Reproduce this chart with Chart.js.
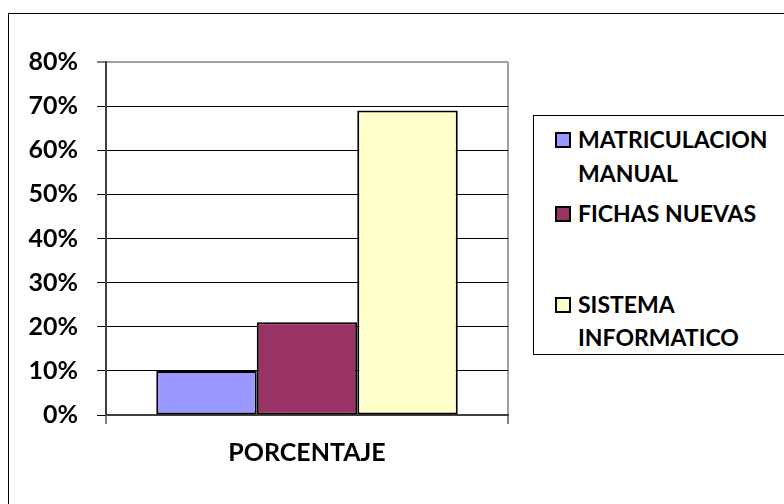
<!DOCTYPE html>
<html>
<head>
<meta charset="utf-8">
<script src="https://cdn.jsdelivr.net/npm/chart.js@4"></script>
<style>
  body { margin: 0; background: #fff; }
  #wrap { position: relative; width: 784px; height: 504px; overflow: hidden; }
  #frame { position: absolute; left: 8px; top: 13px; width: 800px; height: 520px; border: 1px solid #000; }
  #myChart { position: absolute; left: 0; top: 0; }
  #legend {
    position: absolute; left: 533px; top: 115px; width: 280px; height: 238px;
    border: 1px solid #000; background: #fff;
    font-family: Lato, sans-serif; font-weight: bold; font-size: 23px; color: #000;
  }
  .item { display: flex; align-items: flex-start; margin-left: 21px; line-height: 33.5px; }
  .box { width: 12px; height: 12px; border: 2px solid #000; margin-top: 9px; margin-right: 7px; flex: none; }
  .txt { width: 205px; }
</style>
</head>
<body>
<div id="wrap">
  <div id="frame"></div>
  <canvas id="myChart" width="784" height="504"></canvas>
  <div id="legend"></div>
</div>
<script>
const categories = ['PORCENTAJE'];
const seriesNames = ['MATRICULACION MANUAL', 'FICHAS NUEVAS', 'SISTEMA INFORMATICO'];
const seriesValues = [[0.10], [0.21], [0.69]];
const seriesColors = ['#9999FF', '#993366', '#FFFFCC'];
const yMax = 0.8;
const yStep = 0.1;

const labelFont = { family: 'Lato', weight: 'bold', size: 25 };

const ctx = document.getElementById('myChart').getContext('2d');
const myChart = new Chart(ctx, {
    type: 'bar',
    data: {
        labels: categories,
        datasets: seriesNames.map((name, i) => ({
            label: name,
            data: seriesValues[i],
            backgroundColor: seriesColors[i],
            borderColor: '#000',
            borderWidth: 2,
            borderSkipped: false,
            categoryPercentage: 0.75,
            barPercentage: 1.0
        }))
    },
    options: {
        responsive: false,
        animation: false,
        layout: { padding: { top: 62, right: 276, left: 0, bottom: 0 } },
        plugins: {
            legend: { display: false },
            tooltip: { enabled: false }
        },
        scales: {
            x: {
                offset: true,
                afterFit: scale => { scale.height = 89; },
                border: { color: '#404040', width: 2 },
                grid: {
                    offset: true,
                    tickLength: 9,
                    color: c => c.type === 'tick' ? 'rgba(0,0,0,0)' : '#a0a0a0',
                    lineWidth: 2,
                    tickColor: '#000',
                    tickWidth: 1
                },
                ticks: { color: '#000', font: labelFont, padding: 14 }
            },
            y: {
                min: 0,
                max: yMax,
                afterFit: scale => { scale.width = 106; },
                border: { color: '#404040', width: 2 },
                grid: {
                    tickLength: 9,
                    color: c => c.tick && c.tick.value >= yMax - 1e-9 ? '#a0a0a0' : '#000',
                    lineWidth: c => c.tick && c.tick.value >= yMax - 1e-9 ? 2 : 1,
                    tickColor: '#000',
                    tickWidth: 1
                },
                ticks: {
                    stepSize: yStep,
                    color: '#000',
                    font: labelFont,
                    padding: 19,
                    callback: v => Math.round(v * 100) + '%'
                }
            }
        }
    }
});

// HTML legend built from the datasets
const itemGaps = [7, 7, 57];
const legend = document.getElementById('legend');
myChart.data.datasets.forEach((ds, i) => {
    const item = document.createElement('div');
    item.className = 'item';
    item.style.marginTop = itemGaps[i] + 'px';
    const box = document.createElement('span');
    box.className = 'box';
    box.style.background = ds.backgroundColor;
    const txt = document.createElement('span');
    txt.className = 'txt';
    txt.textContent = ds.label;
    item.appendChild(box);
    item.appendChild(txt);
    legend.appendChild(item);
});
</script>
</body>
</html>
